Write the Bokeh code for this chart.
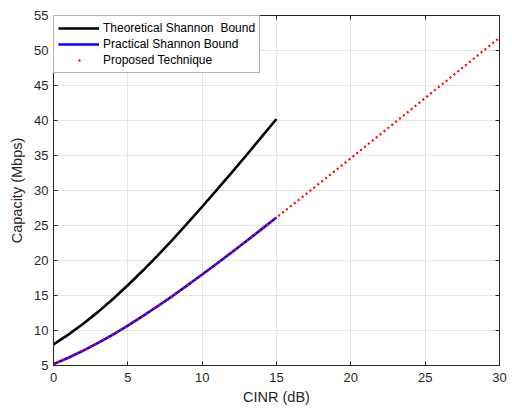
from bokeh.plotting import figure
from bokeh.models import (Range1d, FixedTicker, LinearAxis, Legend, LegendItem,
                          CustomLabelingPolicy)
from bokeh.embed import file_html
from bokeh.resources import INLINE

# CINR (dB)
cinr_low = [0, 1, 2, 3, 4, 5, 6, 7, 8, 9, 10, 11, 12, 13, 14, 15]
cinr_all = list(range(0, 31))

# Capacity (Mbps)
theoretical = [8.0, 9.41, 10.96, 12.66, 14.50, 16.46, 18.53, 20.70, 22.96,
               25.29, 27.68, 30.12, 32.60, 35.11, 37.66, 40.22]
practical = [5.20, 6.11, 7.13, 8.23, 9.42, 10.70, 12.05, 13.46, 14.92,
             16.44, 17.99, 19.58, 21.19, 22.82, 24.48, 26.14]
proposed = [5.20, 6.11, 7.13, 8.23, 9.42, 10.70, 12.05, 13.46, 14.92,
            16.44, 17.99, 19.58, 21.19, 22.82, 24.48, 26.14,
            27.83, 29.51, 31.21, 32.91, 34.62, 36.33, 38.05, 39.77,
            41.49, 43.21, 44.93, 46.66, 48.38, 50.10, 51.83]

x_ticks = [0, 5, 10, 15, 20, 25, 30]
y_ticks = [5, 10, 15, 20, 25, 30, 35, 40, 45, 50, 55]

FONT = "Liberation Sans"
AX = "#262626"

p = figure(width=512, height=410, output_backend="svg", toolbar_location=None,
           x_range=Range1d(0, 30), y_range=Range1d(5, 55),
           min_border_left=53, min_border_right=13, min_border_top=15,
           min_border_bottom=45, x_axis_label="CINR (dB)",
           y_axis_label="Capacity (Mbps)")
p.background_fill_color = "white"
p.border_fill_color = "white"
p.outline_line_color = AX
p.outline_line_width = 1

for ax, ticks in ((p.xaxis[0], x_ticks), (p.yaxis[0], y_ticks)):
    ax.ticker = FixedTicker(ticks=ticks)
    ax.major_tick_in = 4
    ax.major_tick_out = 0
    ax.minor_tick_in = 0
    ax.minor_tick_out = 0
    ax.axis_line_color = AX
    ax.major_tick_line_color = AX
    ax.major_label_text_font = FONT
    ax.major_label_text_font_size = "13px"
    ax.major_label_text_color = AX
    ax.axis_label_text_font = FONT
    ax.axis_label_text_font_size = "14.5px"
    ax.axis_label_text_font_style = "normal"
    ax.axis_label_text_color = AX

p.xaxis[0].major_label_standoff = 7
p.xaxis[0].axis_label_standoff = 4
p.yaxis[0].major_label_standoff = 5
p.yaxis[0].axis_label_standoff = 6

no_labels = CustomLabelingPolicy(code="""
    for (const i of indices) { indices.unset(i) }
    return indices
""")

for loc, ticks in (("right", y_ticks), ("above", x_ticks)):
    a = LinearAxis(ticker=FixedTicker(ticks=ticks), major_tick_in=4,
                   major_tick_out=0, minor_tick_in=0, minor_tick_out=0,
                   major_label_policy=no_labels, major_label_standoff=0,
                   major_label_text_font_size="1px",
                   axis_line_color=AX, major_tick_line_color=AX)
    p.add_layout(a, loc)

p.xgrid.ticker = FixedTicker(ticks=x_ticks)
p.ygrid.ticker = FixedTicker(ticks=y_ticks)
p.grid.grid_line_color = "#e3e3e3"
p.grid.grid_line_width = 1

r_th = p.line(cinr_low, theoretical, line_color="black", line_width=2.6)
r_pr = p.line(cinr_low, practical, line_color="#0000ff", line_width=2.6)
r_pp = p.line(cinr_all, proposed, line_color="#ff0000", line_width=2.2,
              line_dash="2 3")
# legend-only glyph: a single red dot centred in the legend swatch
r_leg = p.line([float("nan")], [float("nan")], line_color="#ff0000",
               line_width=2.4, line_dash="2 60", line_dash_offset=42)

legend = Legend(items=[
    LegendItem(label="Theoretical Shannon  Bound", renderers=[r_th]),
    LegendItem(label="Practical Shannon Bound", renderers=[r_pr]),
    LegendItem(label="Proposed Technique", renderers=[r_leg]),
], location="top_left")
legend.margin = 0
legend.padding = 4
legend.spacing = 0
legend.glyph_width = 41
legend.glyph_height = 16
legend.label_height = 16
legend.label_standoff = 4
legend.label_text_font = FONT
legend.label_text_font_size = "12px"
legend.label_text_color = "#000000"
legend.border_line_color = "#666666"
legend.border_line_width = 1
legend.background_fill_color = "white"
legend.background_fill_alpha = 1
p.add_layout(legend)

open("out.html", "w").write(file_html(p, INLINE))
